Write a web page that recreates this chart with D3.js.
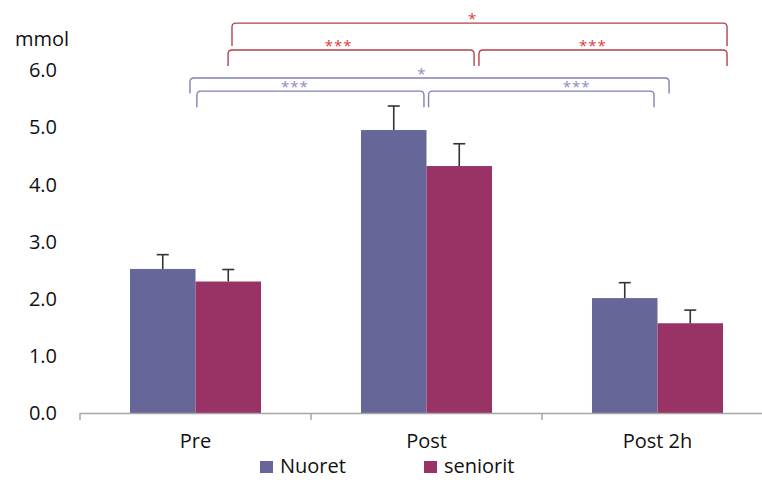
<!DOCTYPE html>
<html>
<head>
<meta charset="utf-8">
<script src="https://cdn.jsdelivr.net/npm/d3@7"></script>
<style>
    body { margin: 0; background: #fff; }
    text { font-family: "Open Sans", sans-serif; fill: #111; }
</style>
</head>
<body>
<div id="chart"></div>
<script>
// data
let categories = ["Pre", "Post", "Post 2h"];
let seriesNames = ["Nuoret", "seniorit"];
let nuoretValues = [2.52, 4.95, 2.01];
let nuoretErrors = [0.25, 0.42, 0.27];
let senioritValues = [2.30, 4.32, 1.57];
let senioritErrors = [0.21, 0.39, 0.23];
let yTicks = [0, 1, 2, 3, 4, 5, 6];

// significance brackets: x in category units (0..3), y in mmol
let bracketFrom = [0.658, 0.641, 1.727, 0.476, 0.506, 1.509];
let bracketTo = [2.801, 1.706, 2.801, 2.550, 1.489, 2.485];
let bracketTop = [6.82, 6.35, 6.35, 5.86, 5.63, 5.63];
let bracketBottom = [6.42, 6.07, 6.07, 5.59, 5.35, 5.35];
let bracketLabels = ["*", "***", "***", "*", "***", "***"];
let bracketLabelX = [1.70, 1.12, 2.22, 1.48, 0.93, 2.15];
let bracketGroup = ["old", "old", "old", "young", "young", "young"];

let colors = {Nuoret: "#666699", seniorit: "#993366"};
let bracketColors = {old: "#b3424a", young: "#8080b6"};
let starColors = {old: "#e0383c", young: "#8c8cc4"};

let width = 762, height = 480;

let svg = d3.select("#chart").append("svg")
    .attr("width", width)
    .attr("height", height);

// scales
let y = d3.scaleLinear().domain([0, 6]).range([413, 70]);
let x0 = d3.scaleBand().domain(categories).range([80, 773]);
let x1 = d3.scaleBand().domain(seriesNames).range([0, x0.bandwidth()]).paddingOuter(0.763);
let xPos = d3.scaleLinear().domain([0, 3]).range([80, 773]);

// y labels (no axis line)
svg.append("g").selectAll("text")
    .data(yTicks)
    .enter().append("text")
    .attr("x", 57)
    .attr("y", d => y(d))
    .attr("dy", "0.36em")
    .attr("text-anchor", "end")
    .style("font-size", "20px")
    .text(d => d.toFixed(1));

svg.append("text")
    .attr("x", 15)
    .attr("y", 46)
    .style("font-size", "20px")
    .text("mmol");

// bars
let rows = categories.map((c, i) => ({
    cat: c,
    vals: [
        {name: "Nuoret", v: nuoretValues[i], e: nuoretErrors[i]},
        {name: "seniorit", v: senioritValues[i], e: senioritErrors[i]}
    ]
}));

let groups = svg.append("g").selectAll("g")
    .data(rows)
    .enter().append("g")
    .attr("transform", d => "translate(" + x0(d.cat) + ",0)");

groups.selectAll("rect")
    .data(d => d.vals)
    .enter().append("rect")
    .attr("x", d => x1(d.name))
    .attr("y", d => y(d.v))
    .attr("width", x1.bandwidth())
    .attr("height", d => y(0) - y(d.v))
    .attr("fill", d => colors[d.name]);

// error bars
let err = groups.selectAll("g.err")
    .data(d => d.vals)
    .enter().append("g")
    .attr("class", "err")
    .attr("stroke", "#333")
    .attr("stroke-width", 1.6);

err.append("line")
    .attr("x1", d => x1(d.name) + x1.bandwidth() / 2)
    .attr("x2", d => x1(d.name) + x1.bandwidth() / 2)
    .attr("y1", d => y(d.v))
    .attr("y2", d => y(d.v + d.e));

err.append("line")
    .attr("x1", d => x1(d.name) + x1.bandwidth() / 2 - 6)
    .attr("x2", d => x1(d.name) + x1.bandwidth() / 2 + 6)
    .attr("y1", d => y(d.v + d.e))
    .attr("y2", d => y(d.v + d.e));

// x axis
let xAxis = svg.append("g");
xAxis.append("line")
    .attr("x1", xPos(0)).attr("x2", width)
    .attr("y1", y(0) + 0.5).attr("y2", y(0) + 0.5)
    .attr("stroke", "#a6a6a6").attr("stroke-width", 1.5);
xAxis.selectAll("line.tick")
    .data([0, 1, 2])
    .enter().append("line")
    .attr("class", "tick")
    .attr("x1", d => xPos(d)).attr("x2", d => xPos(d))
    .attr("y1", y(0)).attr("y2", y(0) + 7)
    .attr("stroke", "#a6a6a6").attr("stroke-width", 1.5);
xAxis.selectAll("text")
    .data(categories)
    .enter().append("text")
    .attr("x", d => x0(d) + x0.bandwidth() / 2)
    .attr("y", 448)
    .attr("text-anchor", "middle")
    .style("font-size", "20px")
    .text(d => d);

// brackets
let brackets = bracketFrom.map((f, i) => ({
    x1: xPos(f), x2: xPos(bracketTo[i]),
    yt: y(bracketTop[i]), yb: y(bracketBottom[i]),
    label: bracketLabels[i], lx: xPos(bracketLabelX[i]),
    group: bracketGroup[i]
}));

let r = 4;
svg.append("g").selectAll("path")
    .data(brackets)
    .enter().append("path")
    .attr("d", d => "M" + d.x1 + "," + d.yb +
        " L" + d.x1 + "," + (d.yt + r) +
        " Q" + d.x1 + "," + d.yt + " " + (d.x1 + r) + "," + d.yt +
        " L" + (d.x2 - r) + "," + d.yt +
        " Q" + d.x2 + "," + d.yt + " " + d.x2 + "," + (d.yt + r) +
        " L" + d.x2 + "," + d.yb)
    .attr("fill", "none")
    .attr("stroke", d => bracketColors[d.group])
    .attr("stroke-width", 1.4);

svg.append("g").selectAll("text")
    .data(brackets)
    .enter().append("text")
    .attr("x", d => d.lx)
    .attr("y", d => d.yt + 1)
    .attr("text-anchor", "middle")
    .style("font-size", "15px")
    .style("letter-spacing", "1px")
    .style("fill", d => starColors[d.group])
    .text(d => d.label);

// legend
let legend = svg.append("g").selectAll("g")
    .data(seriesNames)
    .enter().append("g")
    .attr("transform", (d, i) => "translate(" + (260 + i * 164) + ",461)");

legend.append("rect")
    .attr("width", 13).attr("height", 12)
    .attr("fill", d => colors[d]);

legend.append("text")
    .attr("x", 20)
    .attr("y", 12)
    .style("font-size", "20px")
    .text(d => d);
</script>
</body>
</html>
